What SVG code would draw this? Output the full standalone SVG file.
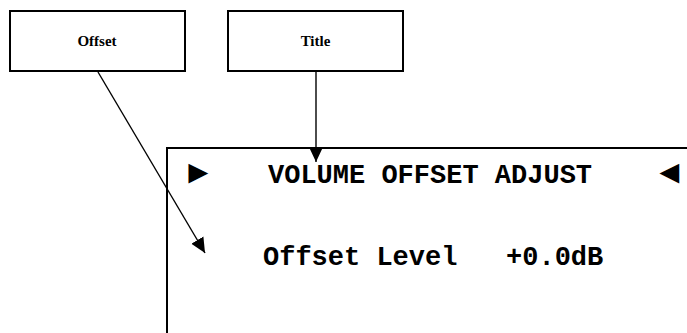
<svg xmlns="http://www.w3.org/2000/svg" width="687" height="333" viewBox="0 0 687 333">
<style>
.box{fill:#fff;stroke:#000;stroke-width:2}
.lbl{font-family:"Liberation Serif","Times New Roman",serif;font-weight:bold;font-size:15px;text-anchor:middle;fill:#000}
.mono{font-family:"Liberation Mono","Courier New",monospace;font-weight:bold;font-size:27px;fill:#000;white-space:pre}
.sym{font-family:"Liberation Sans","DejaVu Sans",sans-serif;font-size:33px;fill:#000}
.con{stroke:#000;stroke-width:1.4;fill:none}
</style>
<defs>
<marker id="ah" markerUnits="userSpaceOnUse" markerWidth="16" markerHeight="16" viewBox="0 0 16 16" refX="15" refY="8" orient="auto">
<path d="M0,1 L15,8 L0,15 Z" fill="#000"/>
</marker>
</defs>
<g id="screen">
<rect class="box" x="167" y="148" width="540" height="200"/>
<text class="sym" x="182" y="183">►</text>
<text class="mono" x="268" y="183">VOLUME OFFSET ADJUST</text>
<text class="sym" x="653" y="183">◄</text>
<text class="mono" x="263" y="265" xml:space="preserve">Offset Level   +0.0dB</text>
</g>
<g id="offset">
<rect class="box" x="10" y="11" width="175" height="60"/>
<text class="lbl" x="97" y="46">Offset</text>
</g>
<g id="title">
<rect class="box" x="228" y="11" width="175" height="60"/>
<text class="lbl" x="315.5" y="46">Title</text>
</g>
<g id="connectors">
<line class="con" x1="98" y1="72" x2="205" y2="253" marker-end="url(#ah)"/>
<line class="con" x1="316" y1="72" x2="316" y2="162" marker-end="url(#ah)"/>
</g>
</svg>
